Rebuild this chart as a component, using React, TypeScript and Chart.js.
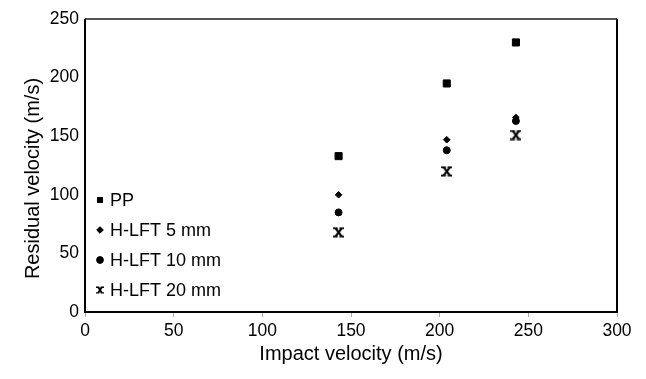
import React, { useEffect, useRef } from 'react';
import { Chart, registerables } from 'chart.js';
import { drawPoint } from 'chart.js/helpers';

Chart.register(...registerables);

const seriesLabels = ['PP', 'H-LFT 5 mm', 'H-LFT 10 mm', 'H-LFT 20 mm'];
const impactVelocity = [143, 204, 243];
const ppValues = [133, 195, 230];
const h5Values = [100, 147, 166];
const h10Values = [85, 138, 163];
const h20Values = [68, 120, 151];
const xTickValues = [0, 50, 100, 150, 200, 250, 300];
const yTickValues = [0, 50, 100, 150, 200, 250];
const xTitle = 'Impact velocity (m/s)';
const yTitle = 'Residual velocity (m/s)';

const FONT = "'Liberation Sans', Arial, Helvetica, sans-serif";

function makeCross(size: number, lw: number): HTMLCanvasElement {
  const c = document.createElement('canvas');
  c.width = size;
  c.height = size;
  const g = c.getContext('2d')!;
  g.strokeStyle = '#000';
  g.lineWidth = lw;
  const m = lw / 2 + 0.3;
  const e = size - m;
  g.beginPath();
  g.moveTo(m + 1, m);
  g.lineTo(e - 1, e);
  g.moveTo(e - 1, m);
  g.lineTo(m + 1, e);
  g.stroke();
  g.lineWidth = Math.max(1, lw * 0.75);
  g.beginPath();
  g.moveTo(0, m);
  g.lineTo(size * 0.42, m);
  g.moveTo(size * 0.58, m);
  g.lineTo(size, m);
  g.moveTo(0, e);
  g.lineTo(size * 0.42, e);
  g.moveTo(size * 0.58, e);
  g.lineTo(size, e);
  g.stroke();
  return c;
}

export default function App() {
  const ref = useRef<HTMLCanvasElement | null>(null);

  useEffect(() => {
    if (!ref.current) return;
    const crossBig = makeCross(11, 2.2);
    const crossSmall = makeCross(8, 1.8);

    const seriesValues = [ppValues, h5Values, h10Values, h20Values];
    const styles: any[] = ['rect', 'rectRot', 'circle', crossBig];
    const radii = [5, 3.3, 3.5, 5];
    const legendStyles: any[] = ['rect', 'rectRot', 'circle', crossSmall];
    const legendRadii = [3.6, 3.3, 3.4, 4];

    const datasets = seriesLabels.map((label, i) => ({
      label,
      data: impactVelocity.map((x, j) => ({ x, y: seriesValues[i][j] })),
      pointStyle: styles[i],
      pointRadius: radii[i],
      pointBorderWidth: 1,
      backgroundColor: '#000',
      borderColor: '#000',
      showLine: false,
    }));

    const framePlugin = {
      id: 'frameAndLegend',
      afterDraw(chart: any) {
        const { ctx, chartArea: ca } = chart;
        ctx.save();
        // frame
        ctx.lineWidth = 2;
        ctx.strokeStyle = '#555';
        ctx.beginPath();
        ctx.moveTo(ca.left, ca.top);
        ctx.lineTo(ca.right, ca.top);
        ctx.stroke();
        ctx.strokeStyle = '#000';
        ctx.beginPath();
        ctx.moveTo(ca.right, ca.top);
        ctx.lineTo(ca.right, ca.bottom);
        ctx.lineTo(ca.left, ca.bottom);
        ctx.lineTo(ca.left, ca.top);
        ctx.stroke();
        // y axis title
        ctx.save();
        ctx.translate(33, (ca.top + ca.bottom) / 2 + 13);
        ctx.rotate(-Math.PI / 2);
        ctx.font = `20px ${FONT}`;
        ctx.fillStyle = '#000';
        ctx.textAlign = 'center';
        ctx.textBaseline = 'middle';
        ctx.fillText(yTitle, 0, 0);
        ctx.restore();
        // legend
        const n = chart.data.datasets.length;
        const spacing = 30;
        const markerX = ca.left + 15;
        const textX = ca.left + 25;
        const lastY = ca.bottom - 22;
        ctx.font = `18px ${FONT}`;
        ctx.textBaseline = 'middle';
        ctx.textAlign = 'left';
        chart.data.datasets.forEach((ds: any, i: number) => {
          const y = lastY - (n - 1 - i) * spacing;
          ctx.fillStyle = '#000';
          ctx.strokeStyle = '#000';
          ctx.lineWidth = 1;
          drawPoint(ctx, { pointStyle: legendStyles[i], radius: legendRadii[i], rotation: 0, borderWidth: 1 } as any, markerX, y);
          ctx.fillStyle = '#000';
          ctx.fillText(ds.label, textX, y + 1);
        });
        ctx.restore();
      },
    };

    const chart = new Chart(ref.current, {
      type: 'scatter',
      data: { datasets },
      options: {
        animation: false,
        responsive: false,
        events: [],
        layout: { padding: { left: 0, top: 19, right: 29, bottom: 0 } },
        plugins: {
          legend: { display: false },
          tooltip: { enabled: false },
        },
        scales: {
          x: {
            type: 'linear',
            min: 0,
            max: 300,
            afterFit: (scale: any) => {
              scale.height = 67;
            },
            afterBuildTicks: (scale: any) => {
              scale.ticks = xTickValues.map((v) => ({ value: v }));
            },
            ticks: {
              font: { size: 17.5, family: FONT },
              color: '#000',
              padding: 4,
              maxRotation: 0,
            },
            grid: {
              display: true,
              drawOnChartArea: false,
              drawTicks: true,
              tickLength: 5,
              color: '#aaa',
              lineWidth: 1,
            },
            border: { display: false },
            title: {
              display: true,
              text: xTitle,
              color: '#000',
              font: { size: 20, family: FONT },
              padding: { top: 0, bottom: 13 },
            },
          },
          y: {
            type: 'linear',
            min: 0,
            max: 250,
            afterFit: (scale: any) => {
              scale.width = 85;
            },
            afterBuildTicks: (scale: any) => {
              scale.ticks = yTickValues.map((v) => ({ value: v }));
            },
            ticks: {
              font: { size: 17.5, family: FONT },
              color: '#000',
              padding: 6,
            },
            grid: { display: false, drawTicks: false },
            border: { display: false },
            title: { display: false, text: yTitle },
          },
        },
      },
      plugins: [framePlugin],
    });
    return () => chart.destroy();
  }, []);

  return (
    <div style={{ position: 'absolute', left: 0, top: 0, width: 646, height: 379, background: '#fff' }}>
      <canvas ref={ref} width={646} height={379} style={{ display: 'block' }} />
    </div>
  );
}
